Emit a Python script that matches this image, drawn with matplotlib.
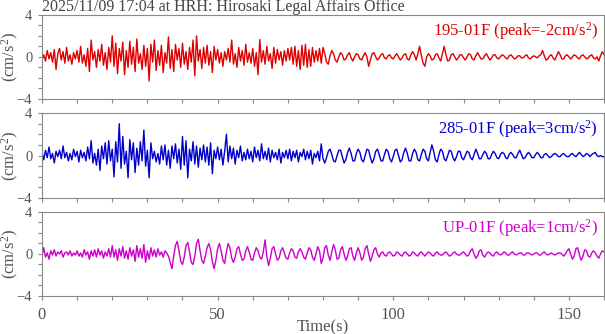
"""
Strong-motion record, HRH station: three acceleration components
"""
import numpy as np
import matplotlib
matplotlib.use('Agg')
import matplotlib.pyplot as plt
from matplotlib.ticker import MultipleLocator

plt.rcParams['font.family'] = ['Liberation Serif', 'DejaVu Serif']
plt.rcParams['mathtext.fontset'] = 'custom'
plt.rcParams['mathtext.rm'] = 'Liberation Serif'
plt.rcParams['mathtext.it'] = 'Liberation Serif'

# Data (cm/s^2, sampled every 0.5 s from 0 to 160 s)
DT = 0.5

ns_195 = [
    -0.3, 0.2, -0.4, 0.6, -0.2, 0.4, -0.5, 0.7, -1.2, 0.3, 0.8, -0.3, 0.5, -0.6, 0.9, -0.4, 0.2, -0.7, 0.4, -0.2,
    0.6, -0.5, 1.0, -0.6, 0.2, -0.9, 0.8, -1.4, 1.6, -0.3, 0.5, -1.0, 0.7, -0.4, 1.2, -0.8, 0.4, -1.2, 0.9, -0.5,
    2.0, -0.9, 1.3, -1.6, 0.8, -0.4, 1.4, -1.7, 0.6, -1.0, 1.5, -0.7, 0.9, -1.4, 1.7, -0.6, 0.3, -1.2, 1.1, -0.9,
    0.8, -2.3, 1.2, -0.5, 1.6, -1.3, 0.6, -0.8, 1.1, -1.5, 0.4, -0.6, 1.9, -1.1, 0.7, -1.4, 1.2, -0.3, 0.8, -1.0,
    1.3, -0.7, 0.5, -1.2, 0.9, -0.5, 1.6, -1.8, 2.0, -0.4, 0.7, -1.1, 0.9, -0.6, 1.1, -0.8, 0.5, -1.5, 1.0, -0.3,
    0.7, -0.6, 0.4, -0.9, 0.5, -0.3, 0.8, -0.5, 1.6, -0.7, 0.3, -1.0, 0.9, -0.4, 0.6, -0.8, 1.2, -0.5, 0.4, -0.6,
    0.8, -0.9, 0.4, -1.7, 1.65, -0.5, 0.6, -0.7, 1.0, -0.4, 0.3, -1.1, 0.9, -0.6, 0.7, -0.3, 0.5, -0.8, 0.6, -0.4,
    0.8, -0.3, 0.9, -0.7, 1.0, -0.9, 0.6, -1.2, 1.1, -0.8, 1.2, -1.0, 0.7, -0.9, 0.9, -0.5, 0.6, -0.4, 0.8, -0.6,
    0.9, 0.3, -0.5, -0.7, 0.1, 0.6, 0.3, -0.3, -0.5, 0.0, 0.4, 0.2, -0.3, -0.2, 0.2, 0.4, -0.1, -0.4, 0.0, 0.3,
    0.2, -0.2, -0.3, 0.1, 0.4, 0.0, -0.9, -0.3, 0.3, 0.4, 0.0, -0.3, -0.1, 0.2, 0.3, -0.1, -0.2, 0.1, 0.2, -0.1,
    -0.2, 0.1, 0.3, 0.0, -0.3, -0.1, 0.2, 0.3, -0.2, -0.3, 0.2, 0.5, 0.2, -0.3, 0.3, 1.0, 0.1, -0.6, -0.9, 0.0,
    0.3, 0.1, -0.3, -0.2, 0.2, 0.3, -0.1, -0.4, 0.3, 1.0, 0.2, -0.4, -0.3, 0.2, 0.3, 0.0, -0.3, -0.1, 0.2, 0.2,
    -0.1, -0.3, 0.0, 0.3, 0.2, -0.2, -0.3, 0.1, 0.4, 0.1, -0.2, -0.2, 0.1, 0.3, 0.0, -0.3, -0.1, 0.2, 0.2, -0.1,
    -0.2, 0.0, 0.2, 0.1, -0.1, -0.2, 0.1, 0.2, 0.0, -0.2, -0.1, 0.1, 0.1, -0.1, -0.1, 0.1, 0.2, -0.1, -0.2, 0.0,
    0.1, 0.0, -0.1, 0.1, 0.2, 0.6, 0.1, -0.3, -0.2, 0.1, 0.2, -0.1, -0.3, 0.1, 0.5, 0.2, -0.2, -0.2, 0.1, 0.2,
    0.0, -0.2, 0.0, 0.2, 0.1, -0.1, -0.2, 0.1, 0.2, 0.0, -0.2, -0.1, 0.1, 0.2, -0.1, -0.2, 0.0, -0.4, 0.1, 0.5, 0.2,
]

ew_285 = [
    0.3, -0.4, 0.5, -0.2, 0.8, -0.3, 0.2, -0.7, 0.4, -0.1, 0.5, -0.3, 0.9, -0.2, 0.3, -0.5, 0.2, -0.4, 0.6, -0.1,
    0.4, -0.6, 0.5, -0.2, 0.3, -0.5, 0.8, -0.3, 1.4, -0.7, 0.2, -0.9, 0.6, -1.4, 0.9, -0.3, 1.2, -0.8, 1.4, -0.5,
    0.6, -2.0, 1.3, -0.6, 3.0, -1.2, 1.8, -0.8, 0.4, -2.1, 1.5, -0.4, 1.2, -1.6, 0.7, -0.9, 1.3, -0.5, 2.4, -1.0,
    0.5, -2.1, 1.2, -0.3, 0.4, -0.6, 0.2, -0.8, 0.9, -0.4, 1.0, -0.9, 0.5, -1.2, 0.9, -0.3, 1.1, -0.7, 0.6, -1.3,
    1.8, -0.9, 1.4, -2.1, 0.6, -0.5, 1.3, -0.8, 0.9, -1.1, 0.7, -0.4, 1.0, -0.6, 0.8, -0.9, 1.2, -1.7, 0.5, -0.3,
    0.8, -0.4, 0.6, -0.9, 0.4, 2.0, -0.6, 0.9, -0.3, 0.7, -0.8, 0.5, -0.2, 0.9, -0.5, 0.3, -0.4, 0.6, -0.3, 0.4,
    -0.6, 0.8, -0.2, 0.5, -0.5, 1.1, -0.3, 0.4, -0.4, 0.7, -0.6, 0.5, -0.2, 0.3, -0.4, 0.6, -0.7, 0.3, -0.2, 0.5,
    -0.3, 0.6, -0.5, 0.4, -0.2, 0.5, -0.6, 0.3, -0.1, 0.6, -0.4, 0.4, -0.3, 0.5, -0.8, 0.2, -0.2, 0.4, -0.5, 1.1,
    -0.3, -0.7, -0.2, 0.4, 0.6, 0.1, -0.5, -0.6, 0.0, 0.5, 0.5, -0.1, -0.7, -0.4, 0.3, 0.7, 0.2, -0.5, -0.5, 0.2,
    0.6, 0.3, -0.4, -0.6, 0.0, 0.6, 0.5, -0.2, -0.7, -0.3, 0.4, 0.6, 0.1, -0.5, -0.5, 0.1, 0.6, 0.4, -0.3, -0.6,
    -0.1, 0.5, 0.6, 0.0, -0.6, -0.4, 0.3, 0.7, 0.2, -0.5, -0.5, 0.2, 0.6, 0.3, -0.4, -0.5, 0.1, 0.6, 0.4, -0.3,
    -0.5, 0.3, 1.0, 0.4, -0.4, -0.6, 0.1, 0.6, 0.4, -0.3, -0.5, 0.0, 0.5, 0.4, -0.2, -0.5, -0.1, 0.4, 0.4, -0.2,
    -0.4, 0.0, 0.4, 0.3, -0.2, -0.4, 0.1, 0.6, 0.2, -0.3, -0.3, 0.1, 0.4, 0.2, -0.3, -0.3, 0.1, 0.4, 0.2, -0.2,
    -0.3, 0.1, 0.3, 0.2, -0.2, -0.3, 0.1, 0.3, 0.1, -0.2, -0.2, 0.2, 0.5, 0.1, -0.3, -0.2, 0.1, 0.3, 0.1, -0.2,
    -0.2, 0.1, 0.3, 0.1, -0.2, -0.2, 0.1, 0.2, 0.0, -0.2, -0.1, 0.1, 0.2, 0.1, -0.1, -0.1, 0.1, 0.2, 0.0, -0.1,
    -0.1, 0.1, 0.2, 0.0, -0.1, 0.1, 0.3, 0.1, -0.1, 0.0, 0.2, 0.1, -0.1, 0.1, 0.2, 0.3, 0.0, -0.1, 0.0, -0.1, -0.1,
]

ud_up = [
    -0.2, 0.6, -0.3, 0.1, -0.5, 0.3, -0.1, 0.4, -0.2, 0.2, 0.0, 0.3, -0.3, 0.1, 0.2, -0.1, 0.3, -0.2, 0.1, -0.1,
    0.3, -0.2, 0.1, -0.3, 0.4, -0.1, 0.2, -0.5, 0.3, -0.2, 0.4, -0.3, 0.5, -0.1, 0.3, -0.4, 0.2, -0.2, 0.5, -0.3,
    0.8, -0.3, 0.4, -0.6, 0.5, -0.2, 0.7, -0.4, 0.3, -0.5, 0.6, -0.2, 0.4, -0.7, 0.8, -0.3, 0.5, -0.4, 0.9, -0.8,
    0.3, -0.5, 0.6, -0.2, 0.4, -0.3, 0.5, -0.1, 0.2, -0.3, 0.3, 0.1, -0.2, -0.8, -1.4, -0.2, 0.8, 1.2, 0.3, -0.7,
    -1.0, -0.3, 0.8, 1.1, 0.2, -0.8, -1.0, -0.2, 1.0, 1.4, 0.3, -0.6, -0.9, -0.2, 0.6, 1.0, 0.4, -0.7, -1.4, -0.6,
    0.5, 1.0, 0.3, -0.6, -0.9, 0.2, 1.0, 0.6, -0.4, -0.8, -0.3, 0.5, 0.7, 0.0, -0.6, -0.5, 0.3, 0.7, 0.2, -0.5,
    -0.6, 0.1, 0.6, 0.3, -0.3, -0.5, 0.2, 1.35, -0.2, -1.1, -0.4, 0.5, 0.7, 0.0, -0.6, -0.4, 0.3, 0.6, 0.1, -0.4,
    -0.5, 0.1, 0.5, 0.3, -0.3, -0.4, 0.2, 0.5, 0.2, -0.3, -0.5, 0.1, 0.6, 0.4, -0.3, -0.6, 0.0, 0.7, 0.3, -0.9,
    -0.4, 0.6, 0.8, -0.1, -0.6, 0.2, 0.9, 0.4, -0.5, -0.4, 0.4, 0.7, 0.0, -0.6, -0.2, 0.5, 0.6, -0.2, -0.6, 0.1,
    0.6, 0.1, -0.6, -0.3, 0.5, 0.8, 0.0, -0.7, -0.2, 0.4, 0.6, 0.0, -0.3, 0.1, 0.2, -0.1, -0.2, 0.1, 0.2, 0.0,
    -0.2, -0.1, 0.2, 0.1, -0.1, -0.2, 0.1, 0.2, 0.0, -0.2, -0.1, 0.2, 0.1, -0.1, -0.2, 0.1, 0.2, 0.0, -0.2, 0.0,
    0.2, 0.1, -0.1, -0.2, 0.1, 0.2, 0.0, -0.1, -0.1, 0.1, 0.2, 0.0, -0.2, -0.1, 0.1, 0.2, 0.0, -0.1, -0.1, 0.1,
    0.2, 0.0, -0.2, -0.1, 0.3, 0.5, 0.0, -0.4, -0.2, 0.3, 0.4, -0.1, -0.3, 0.0, 0.2, 0.1, -0.1, -0.2, 0.1, 0.2,
    0.0, -0.1, 0.0, 0.2, 0.1, -0.1, -0.1, 0.1, 0.2, 0.0, -0.1, 0.0, 0.1, 0.1, -0.1, -0.1, 0.1, 0.1, 0.0, -0.1,
    0.0, 0.1, 0.1, -0.1, -0.1, 0.1, 0.2, 0.0, -0.1, 0.0, 0.1, 0.0, -0.1, 0.0, 0.1, 0.1, 0.0, -0.2, 0.0, 0.3,
    0.5, 0.0, -0.5, -0.2, 0.5, 0.6, -0.1, -0.6, -0.2, 0.4, 0.3, -0.2, -0.3, 0.1, 0.3, 0.1, -0.2, -0.4, 0.0, 0.3, 0.2,
]

traces = [ns_195, ew_285, ud_up]
labels = ['195-01F (peak=-2cm/s$^{2}$)', '285-01F (peak=3cm/s$^{2}$)', 'UP-01F (peak=1cm/s$^{2}$)']
colors = ['#dd0000', '#0000cc', '#cc00cc']

TEXT_GRAY = '#555555'
FRAME_GRAY = '#888888'
FS = 12

fig = plt.figure(figsize=(6.05, 3.34), dpi=100)

# panel boxes [left, bottom, width, height] in figure fraction
boxes = [
    [0.0694, 0.704, 0.929, 0.2515],
    [0.0694, 0.407, 0.929, 0.2545],
    [0.0694, 0.1138, 0.929, 0.2515],
]

for i, (vals, lab, col, box) in enumerate(zip(traces, labels, colors, boxes)):
    ax = fig.add_axes(box)
    t = np.arange(len(vals)) * DT
    ax.plot(t, vals, color=col, linewidth=1.0)

    ax.set_xlim(0, 160)
    ax.set_ylim(-4, 4)
    ax.xaxis.set_major_locator(MultipleLocator(50))
    ax.xaxis.set_minor_locator(MultipleLocator(10))
    ax.yaxis.set_major_locator(MultipleLocator(4))
    ax.yaxis.set_minor_locator(MultipleLocator(1))
    ax.tick_params(which='both', direction='out', colors=FRAME_GRAY, labelcolor=TEXT_GRAY,
                   width=0.8, length=3, top=False, right=False)
    ax.tick_params(axis='y', which='major', pad=4, labelsize=10.5)
    ax.tick_params(axis='x', which='major', pad=5, labelsize=FS)
    for sp in ax.spines.values():
        sp.set_color(FRAME_GRAY)
        sp.set_linewidth(0.8)

    if i < 2:
        ax.set_xticklabels([])
    else:
        ax.set_xlabel('Time(s)', fontsize=FS, color=TEXT_GRAY, va='top')
        ax.xaxis.set_label_coords(0.5, -0.28)

    ax.set_ylabel('(cm/s$^{2}$)', fontsize=FS, color=TEXT_GRAY)
    ax.yaxis.set_label_coords(-0.037, 0.5)
    ax.text(0.989, 0.94, lab, transform=ax.transAxes, ha='right', va='top',
            fontsize=FS, color=col)

fig.text(0.0694, 0.967, '2025/11/09 17:04 at HRH: Hirosaki Legal Affairs Office',
         fontsize=11.5, color='#444444', ha='left', va='baseline')

fig.savefig('out.png', dpi=100)
